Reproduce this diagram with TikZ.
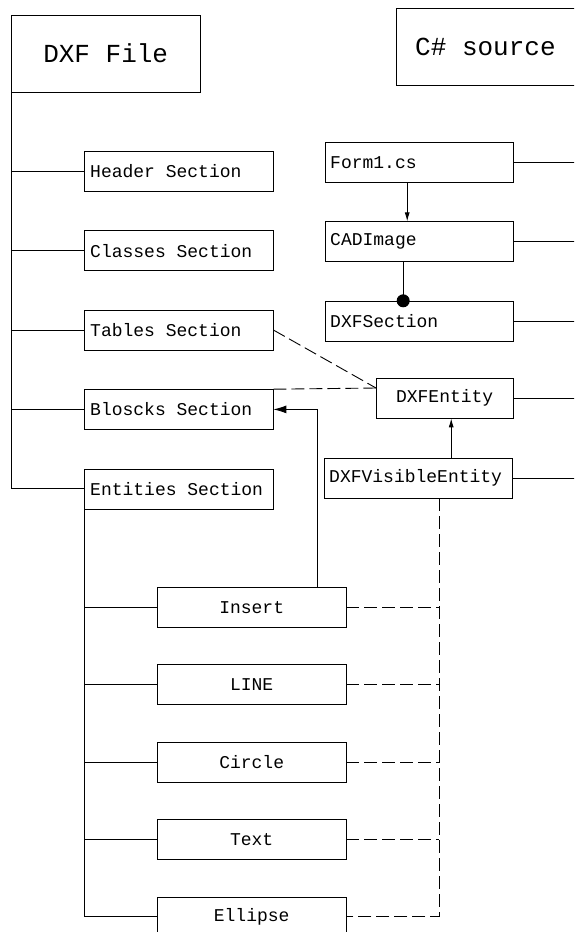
\documentclass[tikz,border=0pt]{standalone}
\usepackage{fontspec}
\newfontfamily\cadfont{Liberation Mono}
\usetikzlibrary{positioning,arrows.meta,calc}

\begin{document}
\begin{tikzpicture}[
  x=1pt, y=-1pt,
  font=\cadfont\fontsize{18}{20}\selectfont,
  title/.style={draw, anchor=north west, minimum height=77pt, font=\cadfont\fontsize{26}{28}\selectfont},
  section/.style={draw, anchor=north west, text width=177pt, inner xsep=6pt, minimum height=40pt, align=flush left},
  cls/.style={draw, anchor=north west, text width=178pt, inner xsep=5pt, minimum height=40pt, align=flush left},
  entity/.style={draw, anchor=north west, minimum width=189pt, minimum height=40pt},
  link/.style={line width=0.9pt},
  dep/.style={link, dash pattern=on 13pt off 5pt},
  arr/.style={link, -{Latex[length=9pt,width=5pt]}}
]
\useasboundingbox (0,0) rectangle (574,932);
\clip (0,0) rectangle (574,932);

% nodes
\node[title, minimum width=189pt] (file) at (11,15) {DXF File};
\node[title, text width=200pt, inner xsep=19pt, align=flush left] (source) at (396,8) {C\# source};

\node[section] (header) at (84,151) {Header Section};
\node[section, below=39pt of header.south west, anchor=north west] (classes) {Classes Section};
\node[section, below=39pt of classes.south west, anchor=north west] (tables) {Tables Section};
\node[section, below=39pt of tables.south west, anchor=north west] (blocks) {Bloscks Section};
\node[section, below=39pt of blocks.south west, anchor=north west] (entities) {Entities Section};

\node[cls] (form) at (325,142) {Form1.cs};
\node[cls, below=39pt of form.south west, anchor=north west] (cad) {CADImage};
\node[cls, below=39pt of cad.south west, anchor=north west] (dxfsec) {DXFSection};
\node[draw, anchor=north west, minimum width=137pt, minimum height=40pt] (dxfent) at (376,378) {DXFEntity};
\node[cls] (visible) at (324,458) {DXFVisibleEntity};

\node[entity] (einsert) at (157,587) {Insert};
\node[entity, below=37pt of einsert] (eline) {LINE};
\node[entity, below=37pt of eline] (ecircle) {Circle};
\node[entity, below=37pt of ecircle] (etext) {Text};
\node[entity, below=37pt of etext] (eellipse) {Ellipse};

\coordinate (edge) at (590,0);
\coordinate (bus) at ($(visible.south west)+(115,0)$);
\coordinate (up) at ([xshift=33pt]visible.north);
\coordinate (ins) at ([xshift=66pt]einsert.north);
\coordinate (entin) at ([yshift=-10pt]dxfent.north west);

% tree of the file
\draw[link] (file.south west) |- (entities.west);
\foreach \s in {header,classes,tables,blocks}
  \draw[link] (\s.west) -- (\s.west -| file.south west);
\draw[link] (entities.south west) |- (eellipse.west);
\foreach \e in {einsert,eline,ecircle,etext}
  \draw[link] (\e.west) -- (\e.west -| entities.south west);

% classes
\foreach \c in {form,cad,dxfsec,dxfent,visible}
  \draw[link] (\c.east) -- (\c.east -| edge);
\draw[arr] ([xshift=-12pt]form.south) -- ([xshift=-12pt]cad.north);
\draw[link] ([xshift=-16pt]cad.south) -- ([xshift=-16pt]dxfsec.north) coordinate (hold);
\fill (hold) circle (6.5pt);
\draw[arr] (up) -- (up |- dxfent.south);

% dependencies
\draw[dep] (tables.east) -- (entin);
\draw[dep] (blocks.north east) -- (entin);
\draw[link, -{Latex[length=13pt,width=8pt]}] (ins) |- (blocks.east);
\draw[dep] (bus) |- (eellipse.east);
\foreach \e in {einsert,eline,ecircle,etext}
  \draw[dep] (\e.east) -- (\e.east -| bus);

\end{tikzpicture}
\end{document}
